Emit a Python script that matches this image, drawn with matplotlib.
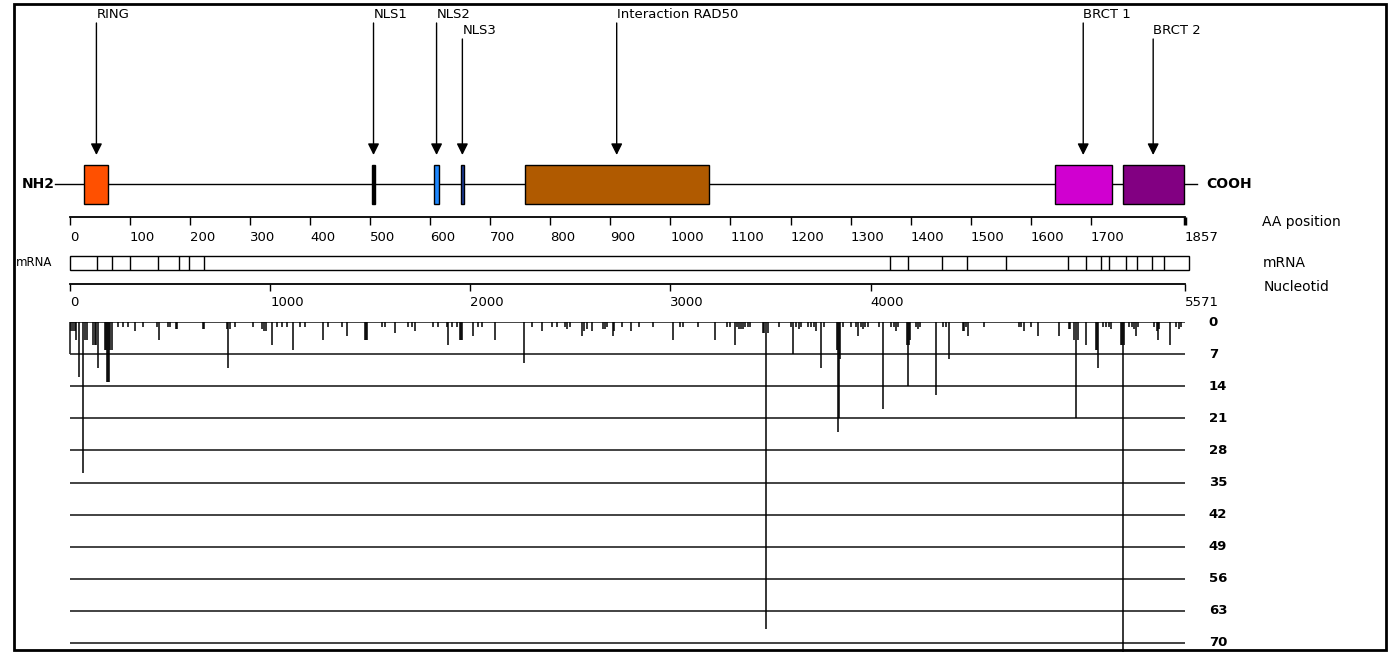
import matplotlib
matplotlib.use("Agg")
import matplotlib.pyplot as plt
from matplotlib.patches import Rectangle

plt.rcParams['font.family'] = ['DejaVu Sans']

W, H = 1389, 652
AA_LEN = 1857
NT_LEN = 5571

# protein domains (amino acid positions)
dom_names = ['RING', 'NLS1', 'NLS2', 'NLS3', 'Interaction RAD50', 'BRCT 1', 'BRCT 2']
dom_start = [24, 503, 607, 651, 757, 1640, 1753]
dom_end = [64, 508, 614, 656, 1064, 1735, 1855]
dom_colors = ['#FF5000', '#000000', '#1E88FF', '#1C3C9C', '#B05A00', '#D000D0', '#820082']
dom_label_row = [0, 0, 0, 1, 0, 0, 1]

aa_ticks = [0, 100, 200, 300, 400, 500, 600, 700, 800, 900, 1000, 1100,
            1200, 1300, 1400, 1500, 1600, 1700, 1857]
nt_ticks = [0, 1000, 2000, 3000, 4000, 5571]

# exon boundaries on the mRNA (nucleotide)
exon_bounds = [134, 212, 301, 441, 547, 593, 670, 4096, 4185, 4357, 4484,
               4675, 4986, 5074, 5152, 5193, 5277, 5332, 5406, 5467]
mrna_end = 5592

# mutations: nucleotide position and number of reports
mut_pos = [5, 15, 25, 30, 45, 65, 75, 85, 115, 125, 130, 140, 175, 180, 185, 190,
           195, 200, 210, 240, 265, 290, 325, 365, 435, 445, 490, 500, 530, 535,
           665, 670, 785, 790, 800, 825, 915, 960, 970, 980, 1010, 1035, 1060,
           1085, 1115, 1150, 1175, 1265, 1290, 1360, 1385, 1475, 1480, 1485, 1560,
           1575, 1625, 1690, 1710, 1725, 1815, 1840, 1885, 1890, 1910, 1935, 1950,
           1955, 1960, 2015, 2040, 2060, 2125, 2270, 2310, 2360, 2410, 2435, 2475,
           2485, 2500, 2560, 2570, 2585, 2610, 2665, 2675, 2685, 2715, 2720, 2760,
           2805, 2845, 2915, 3015, 3050, 3065, 3140, 3225, 3285, 3300, 3325, 3335,
           3345, 3355, 3365, 3375, 3390, 3400, 3465, 3470, 3480, 3485, 3540, 3600,
           3610, 3625, 3640, 3650, 3685, 3700, 3715, 3725, 3750, 3765, 3830, 3835,
           3840, 3845, 3860, 3900, 3925, 3935, 3950, 3960, 3970, 3985, 4040, 4060,
           4100, 4115, 4125, 4135, 4180, 4185, 4190, 4195, 4225, 4235, 4245, 4325,
           4360, 4375, 4390, 4460, 4465, 4475, 4485, 4565, 4740, 4750, 4765, 4800,
           4835, 4940, 4990, 4995, 5015, 5025, 5035, 5075, 5125, 5130, 5135, 5160,
           5175, 5190, 5200, 5250, 5255, 5260, 5265, 5290, 5305, 5315, 5325, 5335,
           5415, 5430, 5435, 5440, 5495, 5525, 5540, 5550]
mut_count = [2, 2, 2, 4, 12, 33, 4, 4, 5, 5, 5, 10, 6, 6, 13, 13,
             13, 6, 6, 1, 1, 1, 2, 1, 1, 4, 1, 1, 1.5, 1.5,
             1.5, 1.5, 1.5, 10, 1.5, 1, 1, 1.5, 2, 2, 5, 1, 1,
             1, 6, 1, 1, 4, 1, 1, 3, 4, 4, 4, 1,
             1, 2.5, 1, 1, 2, 1, 1, 1, 5, 1, 1, 4,
             4, 4, 3, 1, 1, 4, 9, 1, 2, 1, 1, 1,
             1.5, 1, 3, 2, 1.5, 2, 1.5, 1.5, 1, 3, 2, 1,
             2, 1, 1, 4, 1, 1, 1, 4, 1, 1, 5, 1,
             1.5, 1.5, 1.5, 1, 1, 1, 2.5, 2.5, 67, 2.5, 1, 1,
             7, 1, 1.5, 1, 1, 1, 1, 2, 10, 1, 6, 24,
             21, 8, 1, 1, 1, 3, 1, 1.5, 1, 1, 1, 19,
             1, 1, 2, 1, 5, 14, 5, 4, 1, 1.5, 1, 16,
             1, 1, 8, 2, 2, 1, 3, 1, 1, 1, 2, 1,
             3, 3, 1.5, 1.5, 4, 21, 4, 5, 6, 6, 10, 1,
             1, 1, 1.5, 5, 5, 75, 5, 1, 1, 1.5, 3, 1,
             1, 2, 4, 1.5, 5, 1, 1.5, 1]
count_levels = list(range(0, 71, 7))

# pixel layout helpers
X0 = 70.0
AA_PX = (1185 - X0) / AA_LEN
NT_PX = (1185 - X0) / NT_LEN


def px_axes(top, bottom):
    ax = fig.add_axes([0, 1 - bottom / H, 1, (bottom - top) / H])
    ax.patch.set_visible(False)
    for s in ['top', 'left', 'right']:
        ax.spines[s].set_visible(False)
    ax.set_yticks([])
    return ax


fig = plt.figure(figsize=(W / 100, H / 100), dpi=100, facecolor='white')

# ---- protein with domains ----
ax = px_axes(0, 217)
ax.set_xlim(-X0 / AA_PX, (W - X0) / AA_PX)
ax.set_ylim(217, 0)
ax.spines['bottom'].set_bounds(0, AA_LEN)
ax.spines['bottom'].set_linewidth(1.3)
ax.set_xticks(aa_ticks)
ax.tick_params(axis='x', direction='out', length=6, width=1, labelsize=9.5, pad=4)
for lbl in ax.get_xticklabels():
    lbl.set_ha('left')
ax.xaxis.get_major_ticks()[-1].tick1line.set_markeredgewidth(2.5)

ax.plot([-25, 1877], [184, 184], color='black', lw=1)
for name, s, e, c, row in zip(dom_names, dom_start, dom_end, dom_colors, dom_label_row):
    ax.add_patch(Rectangle((s, 165), e - s, 39, facecolor=c, edgecolor='black', lw=1, zorder=3))
    xc = (s + e) / 2
    ytext = 14 if row == 0 else 30
    ax.text(xc, ytext, name, fontsize=9.5, ha='left', va='center')
    ax.annotate('', xy=(xc, 155), xytext=(xc, ytext + 9),
                arrowprops=dict(arrowstyle='-|>', color='black', lw=1,
                                mutation_scale=17, shrinkA=0, shrinkB=0))
ax.text(-26, 184, 'NH2', fontsize=10, fontweight='bold', ha='right', va='center')
ax.text(1892, 184, 'COOH', fontsize=10, fontweight='bold', ha='left', va='center')

# ---- mRNA and nucleotide scale ----
ax2 = px_axes(245, 284)
ax2.set_xlim(-X0 / NT_PX, (W - X0) / NT_PX)
ax2.set_ylim(284, 245)
ax2.spines['bottom'].set_bounds(0, NT_LEN)
ax2.spines['bottom'].set_linewidth(1.3)
ax2.set_xticks(nt_ticks)
ax2.tick_params(axis='x', direction='out', length=5, width=1, labelsize=9.5, pad=4)
for lbl in ax2.get_xticklabels():
    lbl.set_ha('left')
ax2.add_patch(Rectangle((0, 256), mrna_end, 14, fill=False, edgecolor='black', lw=1))
ax2.vlines(exon_bounds, 256, 270, color='black', lw=1)

# ---- mutation counts ----
ax3 = px_axes(322, 652)
ax3.spines['bottom'].set_visible(False)
ax3.set_xticks([])
ax3.set_xlim(-X0 / NT_PX, (W - X0) / NT_PX)
ax3.set_ylim((652 - 322) / (321 / 70), 0)
ax3.hlines(count_levels, 0, NT_LEN, color='#222222', lw=1.2)
ax3.vlines([0], 0, 7, color='#222222', lw=1.2)
ax3.vlines(mut_pos, 0, mut_count, color='black', lw=1.1)
for lv in count_levels:
    ax3.text(5690, lv, str(lv), fontsize=9.5, fontweight='bold', ha='left', va='center')

# side labels
fig.text(1262 / W, 1 - 222 / H, 'AA position', fontsize=10, va='center')
fig.text(1263 / W, 1 - 263 / H, 'mRNA', fontsize=10, va='center')
fig.text(1264 / W, 1 - 287 / H, 'Nucleotid', fontsize=10, va='center')
fig.text(16 / W, 1 - 263 / H, 'mRNA', fontsize=8.5, va='center')

# frame
fig.add_artist(Rectangle((14 / W, 1 - 650 / H), (1386 - 14) / W, (650 - 4) / H,
                         transform=fig.transFigure, fill=False, edgecolor='black', lw=2))

fig.savefig('out.png', dpi=100)
